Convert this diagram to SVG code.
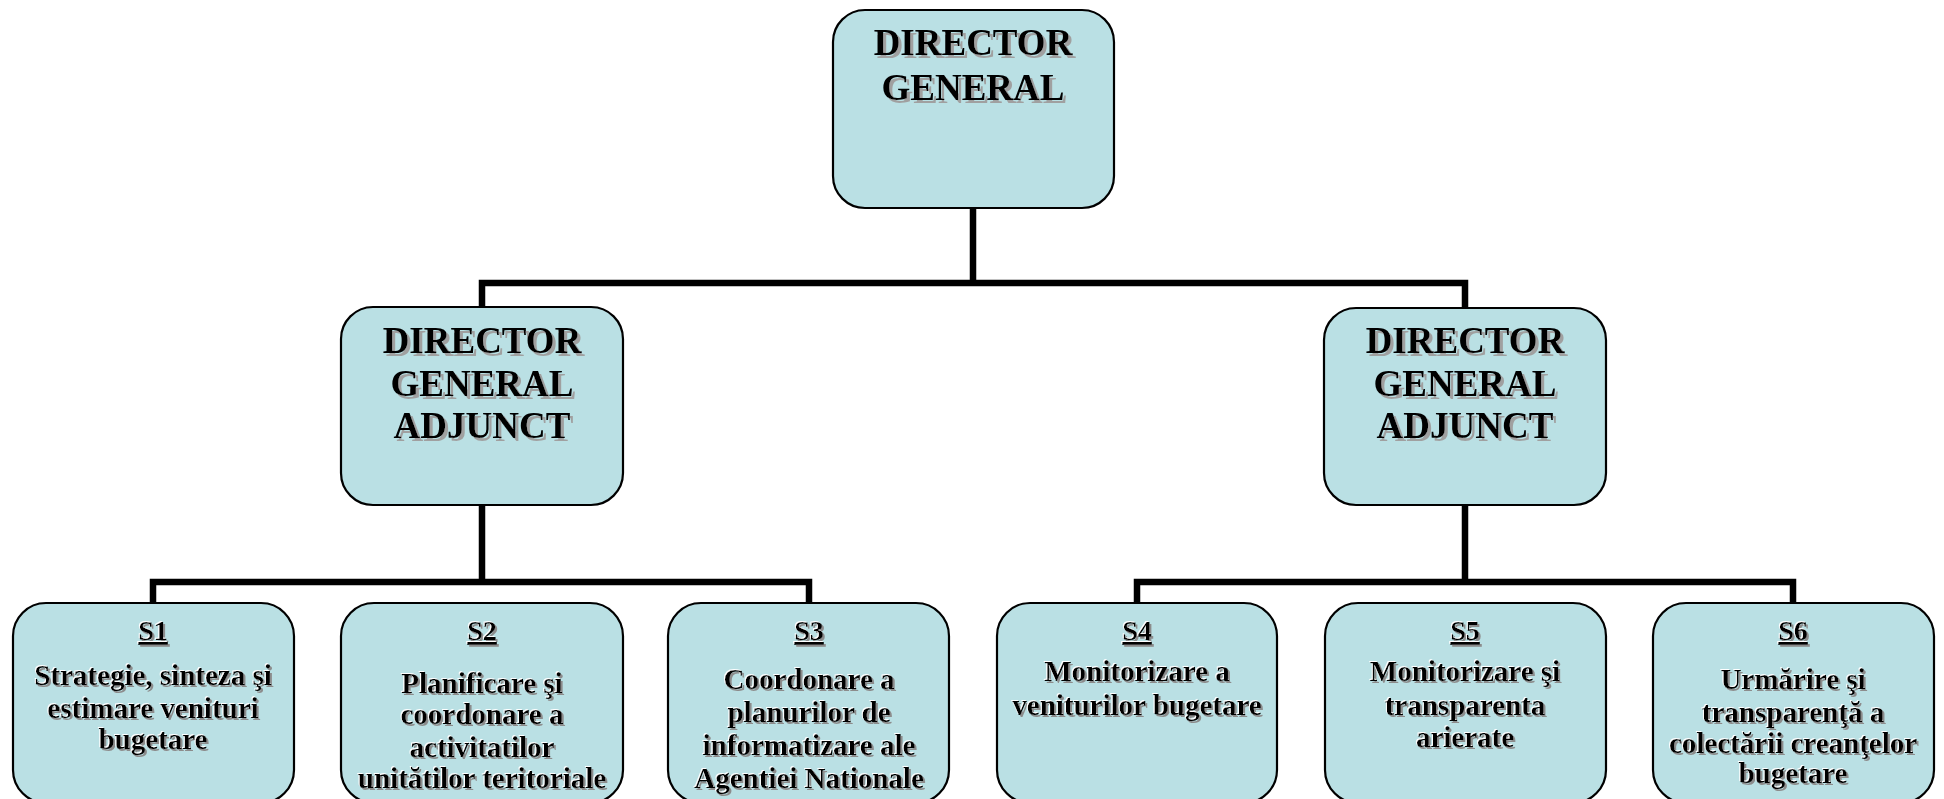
<svg xmlns="http://www.w3.org/2000/svg" width="1944" height="799" viewBox="0 0 1944 799">
<defs>
<style>
.box{fill:#BAE0E4;stroke:#000;stroke-width:2.2}
.conn{fill:none;stroke:#000;stroke-width:6.5;stroke-linecap:square}
.big{font-family:"Liberation Serif","Times New Roman",serif;font-weight:bold;font-size:37px;fill:#000;text-anchor:middle;filter:url(#sh1)}
.lbl{font-family:"Liberation Serif","Times New Roman",serif;font-weight:bold;font-size:28px;fill:#000;text-anchor:middle;text-decoration:underline;filter:url(#sh2)}
.txt{font-family:"Liberation Serif","Times New Roman",serif;font-weight:bold;font-size:29px;fill:#000;text-anchor:middle;filter:url(#sh2)}
</style>
<filter id="sh1" x="-10%" y="-30%" width="120%" height="160%">
<feOffset in="SourceAlpha" dx="2.5" dy="2.5" result="o1"/>
<feFlood flood-color="#a0a0a0"/>
<feComposite in2="o1" operator="in" result="g"/>
<feMerge><feMergeNode in="g"/><feMergeNode in="SourceGraphic"/></feMerge>
</filter>
<filter id="sh2" x="-10%" y="-30%" width="120%" height="160%">
<feOffset in="SourceAlpha" dx="2" dy="2" result="o1"/>
<feFlood flood-color="#8c8c8c"/>
<feComposite in2="o1" operator="in" result="g"/>
<feOffset in="SourceAlpha" dx="-1.5" dy="-1.5" result="o2"/>
<feFlood flood-color="#ffffff"/>
<feComposite in2="o2" operator="in" result="w"/>
<feMerge><feMergeNode in="g"/><feMergeNode in="w"/><feMergeNode in="SourceGraphic"/></feMerge>
</filter>
</defs>
<rect width="1944" height="799" fill="#fff"/>
<g id="connectors">
<path class="conn" d="M973 208 V283 M482 307 V283 H1465 V308"/>
<path class="conn" d="M482 505 V582 M153 603 V582 H809 V603"/>
<path class="conn" d="M1465 505 V582 M1137 603 V582 H1793 V603"/>
</g>
<g id="dg">
<rect class="box" x="833" y="10" width="281" height="198" rx="32"/>
<text class="big" x="973" y="55">DIRECTOR</text>
<text class="big" x="973" y="100">GENERAL</text>
</g>
<g id="dga1">
<rect class="box" x="341" y="307" width="282" height="198" rx="32"/>
<text class="big" x="482" y="353">DIRECTOR</text>
<text class="big" x="482" y="396">GENERAL</text>
<text class="big" x="482" y="438">ADJUNCT</text>
</g>
<g id="dga2">
<rect class="box" x="1324" y="308" width="282" height="197" rx="32"/>
<text class="big" x="1465" y="353">DIRECTOR</text>
<text class="big" x="1465" y="396">GENERAL</text>
<text class="big" x="1465" y="438">ADJUNCT</text>
</g>
<g id="s1">
<rect class="box" x="13" y="603" width="281" height="200" rx="33"/>
<text class="lbl" x="153" y="640">S1</text>
<text class="txt" x="153" y="685">Strategie, sinteza şi</text>
<text class="txt" x="153" y="718">estimare venituri</text>
<text class="txt" x="153" y="749">bugetare</text>
</g>
<g id="s2">
<rect class="box" x="341" y="603" width="282" height="200" rx="33"/>
<text class="lbl" x="482" y="640">S2</text>
<text class="txt" x="482" y="693">Planificare şi</text>
<text class="txt" x="482" y="724">coordonare a</text>
<text class="txt" x="482" y="757">activitatilor</text>
<text class="txt" x="482" y="788">unitătilor teritoriale</text>
</g>
<g id="s3">
<rect class="box" x="668" y="603" width="281" height="200" rx="33"/>
<text class="lbl" x="809" y="640">S3</text>
<text class="txt" x="809" y="689">Coordonare a</text>
<text class="txt" x="809" y="722">planurilor de</text>
<text class="txt" x="809" y="755">informatizare ale</text>
<text class="txt" x="809" y="788">Agentiei Nationale</text>
</g>
<g id="s4">
<rect class="box" x="997" y="603" width="280" height="200" rx="33"/>
<text class="lbl" x="1137" y="640">S4</text>
<text class="txt" x="1137" y="681">Monitorizare a</text>
<text class="txt" x="1137" y="715">veniturilor bugetare</text>
</g>
<g id="s5">
<rect class="box" x="1325" y="603" width="281" height="200" rx="33"/>
<text class="lbl" x="1465" y="640">S5</text>
<text class="txt" x="1465" y="681">Monitorizare şi</text>
<text class="txt" x="1465" y="715">transparenta</text>
<text class="txt" x="1465" y="747">arierate</text>
</g>
<g id="s6">
<rect class="box" x="1653" y="603" width="281" height="200" rx="33"/>
<text class="lbl" x="1793" y="640">S6</text>
<text class="txt" x="1793" y="689">Urmărire şi</text>
<text class="txt" x="1793" y="722">transparenţă a</text>
<text class="txt" x="1793" y="753">colectării creanţelor</text>
<text class="txt" x="1793" y="783">bugetare</text>
</g>
</svg>
